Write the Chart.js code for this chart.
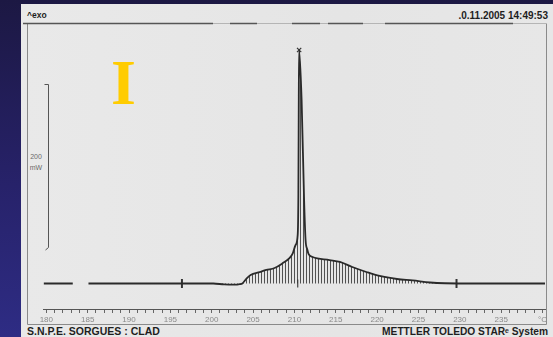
<!DOCTYPE html>
<html>
<head>
<meta charset="utf-8">
<script src="https://cdn.jsdelivr.net/npm/chart.js@4/dist/chart.umd.min.js"></script>
<style>
  html, body { margin: 0; padding: 0; }
  body {
    width: 553px; height: 337px; overflow: hidden; position: relative;
    background: linear-gradient(to bottom, #1c1843 0%, #27226a 55%, #2e2c84 100%);
    font-family: "Liberation Sans", Arial, sans-serif;
  }
  #paper {
    position: absolute; left: 21px; top: 4px; width: 532px; height: 333px;
    background: linear-gradient(to right, #e9e9e9, #e5e5e5 60%, #e7e7e7);
  }
  .txt { position: absolute; color: #1e1e1e; font-weight: bold; white-space: nowrap; line-height: 11px; }
  #exo { left: 27px; top: 10px; font-size: 8.5px; }
  #date { right: 5px; top: 10px; font-size: 10px; }
  #lab { left: 27px; top: 326px; font-size: 10.5px; }
  #sys { right: 5px; top: 326px; font-size: 10.2px; }
  #roman {
    position: absolute; left: 111px; top: 51px; color: #ffcc00;
    font-family: "Liberation Serif", "DejaVu Serif", serif; font-weight: bold; font-size: 64px; line-height: 64px;
  }
  .scl { position: absolute; color: #6a6a6a; font-size: 7px; width: 24px; text-align: center; left: 24px; }
  canvas { position: absolute; left: 0; top: 0; }
</style>
</head>
<body>
<div id="paper"></div>
<div class="txt" id="exo">^exo</div>
<div class="txt" id="date">.0.11.2005 14:49:53</div>
<div class="txt" id="lab">S.N.P.E. SORGUES : CLAD</div>
<div class="txt" id="sys">METTLER TOLEDO STARᵉ System</div>
<div id="roman">I</div>
<div class="scl" style="top:153px">200</div>
<div class="scl" style="top:164px">mW</div>
<canvas id="dsc" width="553" height="337"></canvas>
<script>
const temps = [179.7, 183.2, 183.6, 185.1, 196.4, 200.2, 201.5, 202.8, 203.4, 203.7, 204.2, 204.7, 205.8, 206.6, 207.6,
  208.6, 209.4, 209.8, 210.13, 210.4, 210.48, 210.53, 210.57, 210.87, 211.17, 211.35, 211.55, 211.72, 212.2, 214.25, 215.5,
  217.0, 218.7, 220.3, 222.4, 224.3, 226.4, 228.2, 232.0, 240.3];
const heatFlow = [0, 0, null, 0, 0, 0, -1.2, -1.5, -0.8, 0, 6, 10.4, 14, 16.6, 19,
  25, 31, 37, 47, 60, 110, 230, 286.5, 225, 102.5, 53.4, 42, 36, 32.5, 28.8, 26.4,
  20.2, 14.1, 9.2, 5.5, 3.7, 1.2, 0.3, 0, 0];

// bornes d'intégration et pic
const limits = [196.4, 229.6];
const peakT = [210.57];
const peakV = [286.5];
const peakFoot = [210.4];

const xMin = 179.6, xMax = 240.3;
const yMin = -31.3, yMax = 319.6;

// motif de hachures verticales
function makeHatch() {
  const c = document.createElement('canvas');
  c.width = 3; c.height = 3;
  const g = c.getContext('2d');
  g.fillStyle = 'rgba(55,55,55,0.85)';
  g.fillRect(0, 0, 1, 3);
  return g.createPattern(c, 'repeat');
}

// cadre du papier (décor)
const framePlugin = {
  id: 'frame',
  beforeDraw(chart) {
    const ctx = chart.ctx;
    ctx.save();
    ctx.strokeStyle = '#8a8a8a';
    ctx.lineWidth = 1;
    ctx.beginPath();
    ctx.moveTo(27.5, 23.5); ctx.lineTo(27.5, 324.5); ctx.lineTo(546.5, 324.5); ctx.lineTo(546.5, 23.5);
    ctx.stroke();
    ctx.strokeStyle = '#b5b5b5';
    ctx.beginPath(); ctx.moveTo(27.5, 23.5); ctx.lineTo(546.5, 23.5); ctx.stroke();
    ctx.strokeStyle = '#555';
    ctx.lineWidth = 1.5;
    [[23, 213], [230, 257], [292, 320], [328, 363], [385, 513]].forEach(s => {
      ctx.beginPath(); ctx.moveTo(s[0], 23.5); ctx.lineTo(s[1], 23.5); ctx.stroke();
    });
    // barre d'échelle 200 mW
    ctx.strokeStyle = '#555';
    ctx.lineWidth = 1;
    ctx.beginPath();
    ctx.moveTo(44.5, 84.5); ctx.lineTo(48.5, 84.5); ctx.lineTo(48.5, 247.5); ctx.lineTo(45.5, 250);
    ctx.stroke();
    ctx.restore();
  }
};

const ctx = document.getElementById('dsc').getContext('2d');
new Chart(ctx, {
  type: 'line',
  data: {
    datasets: [
      {
        data: temps.map((t, i) => ({ x: t, y: heatFlow[i] })),
        borderColor: '#2a2a2a',
        borderWidth: 1.8,
        pointRadius: 0,
        cubicInterpolationMode: 'monotone',
        spanGaps: false,
        fill: { value: 0 },
        backgroundColor: makeHatch()
      },
      {
        type: 'scatter',
        data: limits.map(t => ({ x: t, y: 0 })),
        pointStyle: 'line',
        rotation: 90,
        pointRadius: 4.5,
        borderColor: '#333',
        borderWidth: 2
      },
      {
        type: 'scatter',
        data: peakFoot.map(t => ({ x: t, y: 0 })),
        pointStyle: 'line',
        rotation: 90,
        pointRadius: 4,
        borderColor: '#444',
        borderWidth: 1.2
      },
      {
        type: 'scatter',
        data: peakT.map((t, i) => ({ x: t, y: peakV[i] })),
        pointStyle: 'crossRot',
        pointRadius: 3,
        borderColor: '#333',
        borderWidth: 1.2
      }
    ]
  },
  options: {
    responsive: false,
    animation: false,
    layout: { padding: { left: 43, right: 8, top: 23, bottom: 0 } },
    plugins: { legend: { display: false }, tooltip: { enabled: false } },
    scales: {
      x: {
        type: 'linear',
        min: xMin,
        max: xMax,
        border: { color: '#555', width: 1 },
        grid: { drawOnChartArea: false, drawTicks: true, tickLength: 4, color: '#666' },
        ticks: {
          stepSize: 1,
          includeBounds: false,
          autoSkip: false,
          maxRotation: 0,
          padding: 2,
          color: '#8a8a8a',
          font: { family: 'Liberation Sans', size: 8 },
          callback: v => (v === 240 ? '°C' : (v % 5 === 0 ? String(v) : ''))
        },
        afterFit(scale) { scale.height = 28; }
      },
      y: { display: false, min: yMin, max: yMax }
    }
  },
  plugins: [framePlugin]
});
</script>
</body>
</html>
